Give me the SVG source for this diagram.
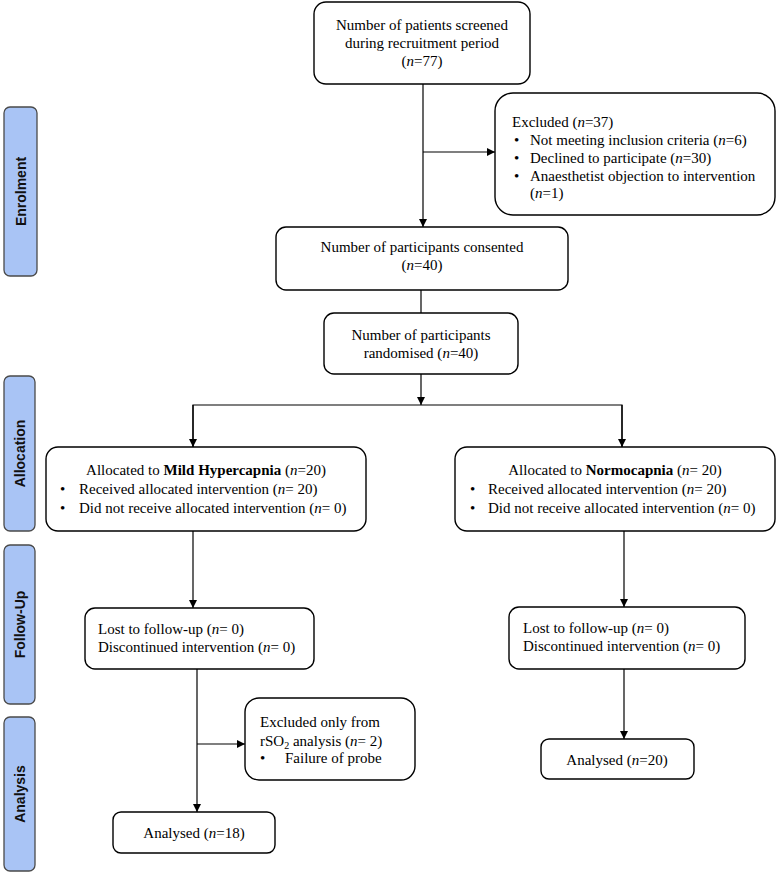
<svg xmlns="http://www.w3.org/2000/svg" width="779" height="876" viewBox="0 0 779 876">
<defs>
<marker id="arr" viewBox="0 0 10 10" refX="10" refY="5" markerWidth="8" markerHeight="8" orient="auto" markerUnits="userSpaceOnUse">
<path d="M0,0 L10,5 L0,10 z" fill="#000"/>
</marker>
<style>
.box{fill:#fff;stroke:#000;stroke-width:1.4}
.side{fill:#a9c4f5;stroke:#4a4a4a;stroke-width:1.3}
.t{font-family:"Liberation Serif","Times New Roman",serif;font-size:15px;fill:#000}
.c{text-anchor:middle}
.s{font-family:"Liberation Sans",Arial,sans-serif;font-size:14px;font-weight:bold;fill:#111;text-anchor:middle}
.ln{fill:none;stroke:#000;stroke-width:1.2}
</style>
</defs>
<rect width="779" height="876" fill="#fff"/>

<g id="side-enrolment"><rect class="side" x="4" y="107" width="33" height="169" rx="6"/><text class="s" transform="translate(25.5,191.5) rotate(-90)">Enrolment</text></g>
<g id="side-allocation"><rect class="side" x="4" y="376" width="31" height="155" rx="6"/><text class="s" transform="translate(24.5,453.5) rotate(-90)">Allocation</text></g>
<g id="side-followup"><rect class="side" x="4" y="545" width="31" height="159" rx="6"/><text class="s" transform="translate(24.5,624.5) rotate(-90)">Follow-Up</text></g>
<g id="side-analysis"><rect class="side" x="4" y="717" width="31" height="154" rx="6"/><text class="s" transform="translate(24.5,794) rotate(-90)">Analysis</text></g>

<g id="connectors">
<line class="ln" x1="423" y1="84" x2="423" y2="227" marker-end="url(#arr)"/>
<line class="ln" x1="423" y1="152" x2="495" y2="152" marker-end="url(#arr)"/>
<line class="ln" x1="421" y1="290" x2="421" y2="313"/>
<line class="ln" x1="421" y1="374" x2="421" y2="405" marker-end="url(#arr)"/>
<polyline class="ln" points="193,447 193,405 622,405 622,447"/>
<line class="ln" x1="193" y1="405" x2="193" y2="447" marker-end="url(#arr)"/>
<line class="ln" x1="622" y1="405" x2="622" y2="447" marker-end="url(#arr)"/>
<line class="ln" x1="193" y1="531" x2="193" y2="608" marker-end="url(#arr)"/>
<line class="ln" x1="624" y1="531" x2="624" y2="607" marker-end="url(#arr)"/>
<line class="ln" x1="197" y1="669" x2="197" y2="812" marker-end="url(#arr)"/>
<line class="ln" x1="197" y1="744" x2="245" y2="744" marker-end="url(#arr)"/>
<line class="ln" x1="624" y1="669" x2="624" y2="739" marker-end="url(#arr)"/>
</g>

<g id="screened"><rect class="box" x="314" y="2" width="216" height="82" rx="12"/>
<text class="t c" x="422" y="30">Number of patients screened</text>
<text class="t c" x="422" y="48">during recruitment period</text>
<text class="t c" x="422" y="66">(<tspan font-style="italic">n</tspan>=77)</text></g>

<g id="excluded"><rect class="box" x="495" y="93" width="280" height="122" rx="18"/>
<text class="t" x="512" y="127">Excluded (<tspan font-style="italic">n</tspan>=37)</text>
<text class="t" x="514" y="145">•</text><text class="t" x="530" y="145">Not meeting inclusion criteria (<tspan font-style="italic">n</tspan>=6)</text>
<text class="t" x="514" y="163">•</text><text class="t" x="530" y="163">Declined to participate (<tspan font-style="italic">n</tspan>=30)</text>
<text class="t" x="514" y="181">•</text><text class="t" x="530" y="181">Anaesthetist objection to intervention</text>
<text class="t" x="530" y="198">(<tspan font-style="italic">n</tspan>=1)</text></g>

<g id="consented"><rect class="box" x="276" y="227" width="292" height="63" rx="10"/>
<text class="t c" x="422" y="252">Number of participants consented</text>
<text class="t c" x="422" y="270">(<tspan font-style="italic">n</tspan>=40)</text></g>

<g id="randomised"><rect class="box" x="324" y="313" width="194" height="61" rx="10"/>
<text class="t c" x="421" y="340">Number of participants</text>
<text class="t c" x="421" y="358">randomised (<tspan font-style="italic">n</tspan>=40)</text></g>

<g id="alloc-hyper"><rect class="box" x="46" y="447" width="320" height="84" rx="12"/>
<text class="t c" x="206" y="475">Allocated to <tspan font-weight="bold">Mild Hypercapnia</tspan> (<tspan font-style="italic">n</tspan>=20)</text>
<text class="t" x="60" y="494">•</text><text class="t" x="79" y="494">Received allocated intervention (<tspan font-style="italic">n</tspan>= 20)</text>
<text class="t" x="60" y="513">•</text><text class="t" x="79" y="513">Did not receive allocated intervention (<tspan font-style="italic">n</tspan>= 0)</text></g>

<g id="alloc-normo"><rect class="box" x="455" y="447" width="320" height="84" rx="12"/>
<text class="t c" x="615" y="475">Allocated to <tspan font-weight="bold">Normocapnia</tspan> (<tspan font-style="italic">n</tspan>= 20)</text>
<text class="t" x="470" y="494">•</text><text class="t" x="488" y="494">Received allocated intervention (<tspan font-style="italic">n</tspan>= 20)</text>
<text class="t" x="470" y="513">•</text><text class="t" x="488" y="513">Did not receive allocated intervention (<tspan font-style="italic">n</tspan>= 0)</text></g>

<g id="followup-hyper"><rect class="box" x="85" y="608" width="229" height="61" rx="10"/>
<text class="t" x="98" y="634">Lost to follow-up (<tspan font-style="italic">n</tspan>= 0)</text>
<text class="t" x="98" y="652">Discontinued intervention (<tspan font-style="italic">n</tspan>= 0)</text></g>

<g id="followup-normo"><rect class="box" x="509" y="607" width="236" height="62" rx="10"/>
<text class="t" x="523" y="633">Lost to follow-up (<tspan font-style="italic">n</tspan>= 0)</text>
<text class="t" x="523" y="651">Discontinued intervention (<tspan font-style="italic">n</tspan>= 0)</text></g>

<g id="excluded-rso2"><rect class="box" x="245" y="698" width="170" height="82" rx="14"/>
<text class="t" x="260" y="727">Excluded only from</text>
<text class="t" x="260" y="746">rSO<tspan font-size="10" dy="3">2</tspan><tspan dy="-3"> analysis (</tspan><tspan font-style="italic">n</tspan>= 2)</text>
<text class="t" x="260" y="763">•</text><text class="t" x="285" y="763">Failure of probe</text></g>

<g id="analysed-hyper"><rect class="box" x="113" y="812" width="162" height="41" rx="8"/>
<text class="t c" x="194" y="838">Analysed (<tspan font-style="italic">n</tspan>=18)</text></g>

<g id="analysed-normo"><rect class="box" x="541" y="739" width="153" height="40" rx="8"/>
<text class="t c" x="617" y="765">Analysed (<tspan font-style="italic">n</tspan>=20)</text></g>
</svg>
